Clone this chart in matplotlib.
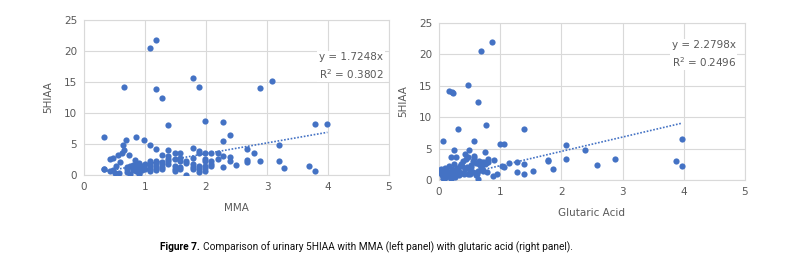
import matplotlib
matplotlib.use("Agg")
import matplotlib.pyplot as plt

# Painel esquerdo: MMA x 5HIAA
mma_x = [0.32, 0.32, 0.32, 0.43, 0.48, 0.55, 0.43, 0.47, 0.51, 0.52, 0.59, 0.58,
         0.62, 0.64, 0.66, 0.65, 0.69, 0.74, 0.85, 0.99, 0.84,
         0.70, 0.70, 0.70, 0.75, 0.75, 0.80, 0.80, 0.80, 0.80,
         0.85, 0.85, 0.85, 0.90, 0.90, 0.90, 0.90, 0.90, 0.95, 0.95, 0.95, 1.00, 1.00,
         1.08, 1.08, 1.08, 1.08, 1.08, 1.08, 1.08, 1.18, 1.18, 1.18, 1.18, 1.18, 1.18, 1.18, 1.18,
         1.28, 1.28, 1.28, 1.28, 1.28, 1.28, 1.38, 1.38, 1.38, 1.38, 1.38, 1.38,
         1.49, 1.49, 1.49, 1.49, 1.49, 1.58, 1.58, 1.58, 1.58, 1.58, 1.68, 1.68, 1.68,
         1.79, 1.79, 1.79, 1.79, 1.79, 1.79, 1.89, 1.89, 1.89, 1.89, 1.89, 1.89,
         1.99, 1.99, 1.99, 1.99, 1.99, 1.99, 1.99, 2.09, 2.09, 2.09, 2.09, 2.19, 2.19,
         2.28, 2.28, 2.28, 2.28, 2.39, 2.39, 2.39, 2.49, 2.68, 2.68, 2.68, 2.79, 2.89,
         2.88, 3.09, 3.19, 3.19, 3.28, 3.69, 3.79, 3.79, 3.99]
mma_y = [6.2, 1.0, 0.9, 2.6, 2.8, 3.2, 0.6, 0.8, 0.4, 1.4, 2.1, 0.3,
         3.6, 4.8, 4.1, 14.2, 5.6, 3.3, 6.2, 5.7, 2.5,
         1.0, 1.3, 0.5, 0.2, 1.4, 0.8, 1.0, 1.4, 1.6,
         0.6, 1.2, 1.8, 0.3, 1.1, 1.4, 1.9, 0.1, 0.8, 1.2, 1.5, 1.0, 1.7,
         0.6, 1.0, 1.4, 1.8, 2.2, 4.8, 20.5, 0.8, 1.1, 1.5, 1.9, 2.3, 4.2, 13.9, 21.8,
         0.9, 1.3, 1.7, 2.1, 3.2, 12.4, 1.8, 2.2, 2.6, 3.0, 4.0, 8.1,
         0.6, 1.0, 1.4, 2.6, 3.6, 0.9, 1.3, 2.2, 2.8, 3.6, 1.9, 2.3, 0.05,
         0.9, 1.3, 1.7, 2.8, 4.4, 15.6, 0.5, 1.0, 1.4, 3.6, 3.8, 14.2,
         0.7, 1.1, 1.4, 2.3, 2.6, 3.6, 8.7, 1.4, 1.8, 2.3, 3.6, 2.6, 3.6,
         8.6, 5.5, 3.0, 1.3, 6.4, 2.9, 2.3, 1.6, 4.2, 2.4, 2.1, 3.6, 2.2,
         14.0, 15.2, 4.8, 2.2, 1.2, 1.5, 0.7, 8.2, 8.2]

# Painel direito: acido glutarico x 5HIAA
glut_x = [0.07, 0.16, 0.21, 0.23, 0.47, 0.64, 0.68, 0.87, 0.31, 0.77,
          0.57, 0.25, 0.49, 0.99, 1.07, 1.39, 2.07, 2.39, 2.07, 1.78, 1.78,
          2.88, 2.58, 3.88, 3.97, 3.97, 1.39, 1.27, 1.15, 1.39, 1.27, 1.54, 1.87,
          1.07, 1.03, 0.94, 0.88, 0.64, 0.90, 0.80, 0.75, 0.43, 0.19, 0.28,
          0.00, 0.02, 0.04, 0.05, 0.06, 0.08, 0.10, 0.12, 0.13, 0.15, 0.17, 0.18,
          0.20, 0.22, 0.23, 0.25, 0.27, 0.28, 0.30, 0.32, 0.34, 0.06, 0.09, 0.11,
          0.14, 0.19, 0.24, 0.26, 0.29, 0.33, 0.03, 0.08, 0.16, 0.21, 0.31,
          0.36, 0.38, 0.40, 0.42, 0.45, 0.48, 0.50, 0.52, 0.55, 0.57, 0.60,
          0.62, 0.65, 0.68, 0.70, 0.72, 0.75, 0.78, 0.80, 0.38, 0.44, 0.51,
          0.56, 0.61, 0.66, 0.71, 0.76, 0.47, 0.53, 0.58, 0.63, 0.69, 0.74, 0.41]
glut_y = [6.2, 14.1, 14.0, 13.8, 15.2, 12.5, 20.5, 21.9, 8.2, 8.8,
          6.2, 4.8, 4.7, 5.8, 5.7, 8.2, 5.5, 4.8, 3.4, 3.2, 3.0,
          3.4, 2.4, 3.0, 2.3, 6.5, 2.6, 2.8, 2.7, 1.0, 1.2, 1.4, 1.7,
          2.0, 2.2, 1.0, 0.6, 0.1, 3.2, 3.4, 4.4, 4.2, 3.6, 3.6,
          1.5, 1.2, 1.8, 0.8, 1.4, 1.0, 0.6, 1.6, 1.1, 0.9, 2.2, 1.3,
          0.7, 1.7, 1.0, 2.5, 1.4, 0.9, 1.9, 1.2, 2.3, 0.3, 1.9, 0.5,
          1.3, 0.2, 1.5, 0.4, 1.1, 0.8, 1.1, 0.2, 0.6, 1.2, 1.6,
          2.6, 1.1, 3.0, 1.8, 2.1, 3.6, 0.9, 2.4, 1.3, 3.9, 2.7,
          1.0, 3.1, 2.0, 2.8, 1.4, 2.6, 1.2, 2.9, 2.2, 3.4, 1.6,
          3.0, 0.8, 2.5, 1.8, 2.7, 1.0, 2.0, 3.5, 1.5, 2.2, 2.9, 0.9]

slope_mma = 1.7248
r2_mma = 0.3802
slope_glut = 2.2798
r2_glut = 0.2496

azul = '#4472C4'
cinza = '#595959'
grade = '#d9d9d9'

fig = plt.figure(figsize=(7.91, 2.64), dpi=100)


def painel(pos, x, y, slope, r2, xlabel, txt_x, txt_y):
    ax = fig.add_axes(pos)
    ax.scatter(x, y, s=20, color=azul, zorder=3, linewidths=0)
    xs = [min(x), max(x)]
    ax.plot(xs, [slope * v for v in xs], linestyle=(0, (1, 1)), color=azul, lw=1.2, zorder=2)
    ax.set_xlim(0, 5)
    ax.set_ylim(0, 25)
    ax.set_xticks([0, 1, 2, 3, 4, 5])
    ax.set_yticks([0, 5, 10, 15, 20, 25])
    ax.grid(True, color=grade, lw=0.8, zorder=0)
    for s in ax.spines.values():
        s.set_color(grade)
        s.set_linewidth(0.8)
    ax.tick_params(length=0, labelsize=7.5, colors=cinza, pad=5)
    ax.set_xlabel(xlabel, fontsize=7.5, color=cinza, labelpad=8)
    ax.set_ylabel('5HIAA', fontsize=7.5, color=cinza, labelpad=8)
    ax.text(txt_x, txt_y, 'y = %.4fx\nR$^2$ = %.4f' % (slope, r2), fontsize=7.5,
            color=cinza, va='center', ha='left', linespacing=1.4, zorder=4,
            bbox=dict(facecolor='white', edgecolor='none', pad=1))
    return ax


painel([84 / 791, 1 - 175 / 264, 305 / 791, 155 / 264], mma_x, mma_y,
       slope_mma, r2_mma, 'MMA', 3.85, 17.5)
painel([439 / 791, 1 - 180 / 264, 306 / 791, 157 / 264], glut_x, glut_y,
       slope_glut, r2_glut, 'Glutaric Acid', 3.8, 20.0)

# Legenda da figura
fonte = ['Roboto', 'DejaVu Sans']
t1 = fig.text(160 / 791, 1 - 247 / 264, 'Figure 7.', fontsize=7.3, fontweight='bold',
              family=fonte, va='center', ha='left')
fig.canvas.draw()
bb = t1.get_window_extent()
fig.text((bb.x1 + 3) / 791, 1 - 247 / 264,
         'Comparison of urinary 5HIAA with MMA (left panel) with glutaric acid (right panel).',
         fontsize=7.3, family=fonte, va='center', ha='left', color='#111111')

fig.savefig('out.png', dpi=100)
